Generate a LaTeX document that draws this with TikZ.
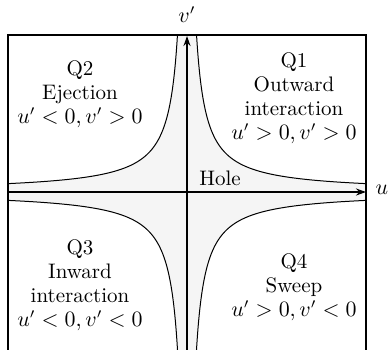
\documentclass[tikz,border=0pt]{standalone}
\usetikzlibrary{arrows.meta}
\definecolor{holegray}{gray}{0.96}
\begin{document}
\begin{tikzpicture}[x=0.5pt,y=0.5pt,
  quadtext/.style={align=center,font=\fontsize{10.5}{12}\selectfont,inner sep=0pt},
  axisline/.style={line width=1.4pt,-{Stealth[length=5pt,width=3.5pt]}},
  hyper/.style={line width=0.5pt},
  frame/.style={line width=1pt,line join=miter}]
\useasboundingbox (-187,-157) rectangle (202,192);
\clip (-187,-157) rectangle (202,192);
\def\H{1500}
% hole region (grey) and white quadrant regions
\fill[holegray] (-179,-170) rectangle (179,157);
\foreach \sx/\sy/\ym/\lo in {1/1/157/2.257, -1/1/157/2.257, 1/-1/170/2.176, -1/-1/170/2.176}{
  \fill[white] plot[variable=\t,domain=\lo:5.187,smooth,samples=60]
     ({\sx*exp(\t)},{\sy*\H/exp(\t)}) -- ({\sx*179},{\sy*\ym}) -- cycle;
  \draw[hyper] plot[variable=\t,domain=\lo:5.187,smooth,samples=60]
     ({\sx*exp(\t)},{\sy*\H/exp(\t)});
}
% frame
\draw[frame] (-179,-170) -- (-179,157) -- (179,157) -- (179,-170);
% axes
\coordinate (uL) at (-179,0);
\coordinate (uR) at (179,0);
\coordinate (vB) at (0,-170);
\coordinate (vT) at (0,156);
\draw[axisline] (uL) -- (uR);
\draw[axisline] (vB) -- (vT);
\node[font=\fontsize{10.5}{12}\selectfont] (ulab) at (195,2) {$u$};
\node[font=\fontsize{10.5}{12}\selectfont] (vlab) at (0,177) {$v'$};
\node[font=\fontsize{10.5}{12}\selectfont] (hole) at (33,14) {Hole};
% quadrant labels
\node[quadtext] (q1) at (107,94) {Q1\\Outward\\interaction\\$u'>0,v'>0$};
\node[quadtext] (q2) at (-107,98) {Q2\\Ejection\\$u'<0,v'>0$};
\node[quadtext] (q3) at (-107,-93) {Q3\\Inward\\interaction\\$u'<0,v'<0$};
\node[quadtext] (q4) at (107,-95) {Q4\\Sweep\\$u'>0,v'<0$};
\end{tikzpicture}
\end{document}
